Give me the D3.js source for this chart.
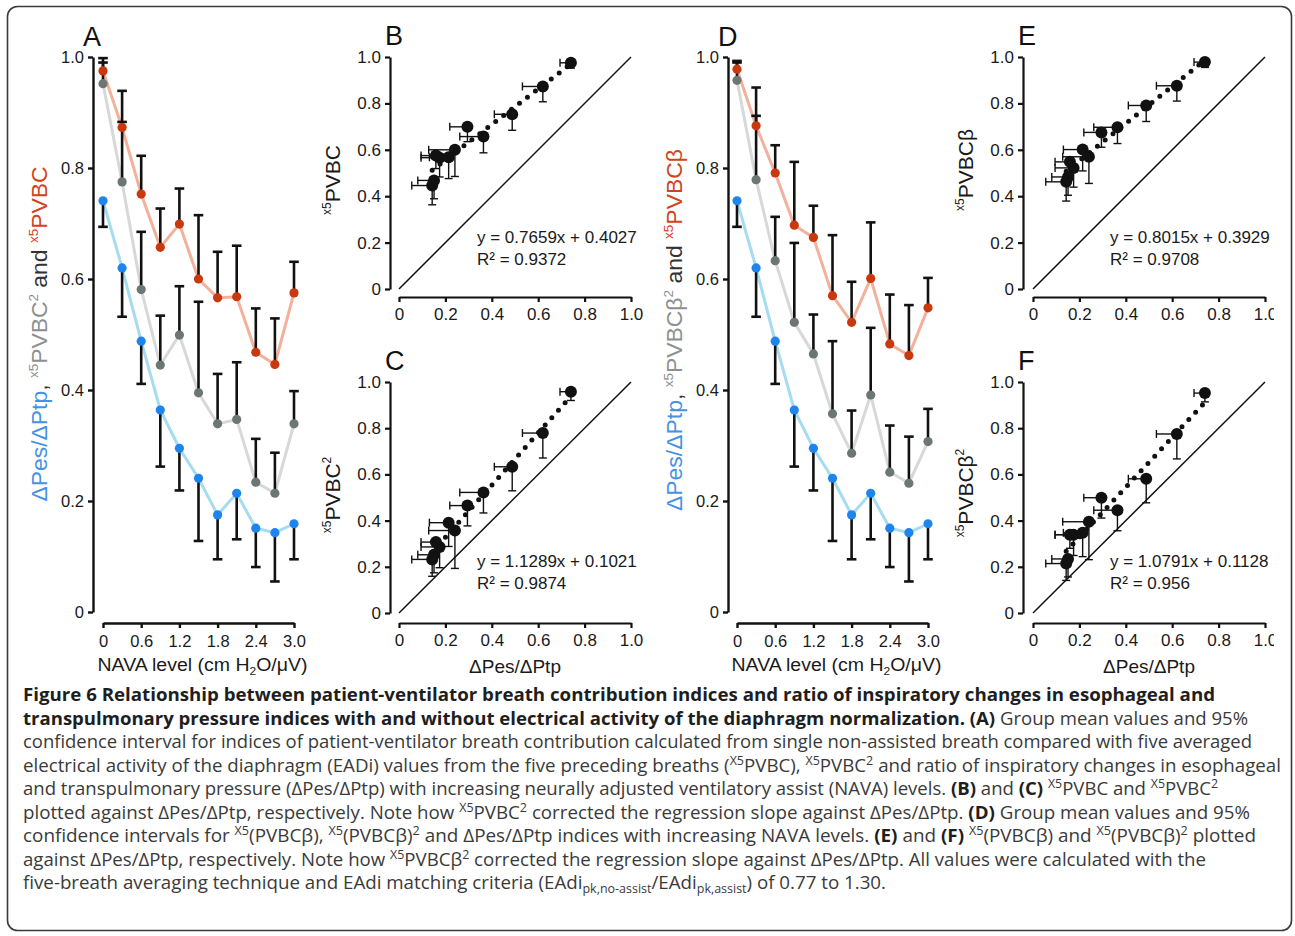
<!DOCTYPE html>
<html>
<head>
<meta charset="utf-8">
<script src="https://cdn.jsdelivr.net/npm/d3@7"></script>
<style>
  body { margin: 0; background: #fff; }
  svg { display: block; }
</style>
</head>
<body>
<svg id="fig" width="1295" height="936"></svg>
<script>
// ---- data ----
// NAVA levels (cm H2O/uV)
const navaLevels = [0, 0.3, 0.6, 0.9, 1.2, 1.5, 1.8, 2.1, 2.4, 2.7, 3.0];
const navaTicks = [0, 0.6, 1.2, 1.8, 2.4, 3.0];
const unitTicks = [0, 0.2, 0.4, 0.6, 0.8, 1.0];

// dPes/dPtp (blue), same series in A and D; CI half widths
const pesPtp   = [0.741, 0.620, 0.488, 0.364, 0.295, 0.241, 0.175, 0.214, 0.151, 0.143, 0.159];
const pesPtpCI = [0.047, 0.088, 0.077, 0.102, 0.076, 0.113, 0.080, 0.083, 0.070, 0.088, 0.064];

// panel A: x5PVBC (red) and x5PVBC^2 (grey)
const pvbcA    = [0.975, 0.873, 0.753, 0.657, 0.699, 0.600, 0.566, 0.568, 0.468, 0.446, 0.575];
const pvbcACI  = [0.023, 0.066, 0.069, 0.070, 0.064, 0.115, 0.083, 0.092, 0.079, 0.083, 0.056];
const pvbc2A   = [0.952, 0.775, 0.581, 0.445, 0.499, 0.395, 0.339, 0.347, 0.234, 0.214, 0.339];
const pvbc2ACI = [0.038, 0.108, 0.104, 0.089, 0.088, 0.164, 0.090, 0.103, 0.078, 0.073, 0.059];

// panel D: x5PVBCbeta (red) and x5PVBCbeta^2 (grey)
const pvbcBetaD    = [0.978, 0.876, 0.791, 0.697, 0.675, 0.570, 0.522, 0.601, 0.483, 0.462, 0.548];
const pvbcBetaDCI  = [0.015, 0.069, 0.050, 0.114, 0.057, 0.109, 0.073, 0.101, 0.089, 0.091, 0.054];
const pvbcBeta2D   = [0.958, 0.779, 0.633, 0.522, 0.465, 0.357, 0.286, 0.391, 0.252, 0.232, 0.307];
const pvbcBeta2DCI = [0.032, 0.115, 0.079, 0.143, 0.071, 0.131, 0.077, 0.121, 0.084, 0.084, 0.059];

// regressions printed in B, C, E, F
const regSlope     = [0.7659, 1.1289, 0.8015, 1.0791];
const regIntercept = [0.4027, 0.1021, 0.3929, 0.1128];
const regR2        = ["0.9372", "0.9874", "0.9708", "0.956"];

const RED = "#c9380f", RED_LINE = "#f3b19c";
const GREY = "#6c7673", GREY_LINE = "#d6d9d7";
const BLUE = "#1f85ee", BLUE_LINE = "#a6dcf0";
const T_BLUE = "#4592e4", T_GREY = "#8c9190", T_RED = "#d2431b", T_DARK = "#333";
const FONT = "'Liberation Sans', Arial, sans-serif";

const svg = d3.select("#fig");
svg.append("defs").append("clipPath").attr("id", "chartClip")
  .append("rect").attr("x", 0).attr("y", 0).attr("width", 1274).attr("height", 680);

const chart = svg.append("g").attr("clip-path", "url(#chartClip)")
  .style("font-family", FONT);

const fmtTick = d => d === 0 ? "0" : d.toFixed(1);

function styleAxis(sel, w, fs) {
  sel.select(".domain").attr("stroke", "#111").attr("stroke-width", w);
  sel.selectAll(".tick line").attr("stroke", "#111").attr("stroke-width", w);
  sel.selectAll(".tick text").attr("fill", "#1a1a1a").style("font-size", fs + "px")
    .style("font-family", FONT);
}

// rotated multi colour title
function yTitle(g, x, cy, parts, fs, len) {
  const t = g.append("text")
    .attr("transform", `translate(${x},${cy}) rotate(-90)`)
    .attr("text-anchor", "middle")
    .style("font-size", fs + "px");
  if (len) t.attr("textLength", len).attr("lengthAdjust", "spacingAndGlyphs");
  let shift = 0;
  parts.forEach(([str, col, sup]) => {
    const target = sup ? -Math.round(fs * 0.42) : 0;
    t.append("tspan").attr("dy", target - shift).attr("fill", col)
      .style("font-size", (sup ? Math.round(fs * 0.58) : fs) + "px").text(str);
    shift = target;
  });
  return t;
}

function letter(g, txt, x, y) {
  g.append("text").attr("x", x).attr("y", y).style("font-size", "27px")
    .attr("fill", "#111").text(txt);
}

function linePanel(p) {
  const g = chart.append("g");
  const x = d3.scaleLinear().domain([0, 3]).range([p.x0, p.x1]);
  const y = d3.scaleLinear().domain([0, 1]).range([p.y0, p.y1]);

  g.append("g").attr("transform", `translate(${p.axisX},0)`)
    .call(d3.axisLeft(y).tickValues(unitTicks).tickFormat(fmtTick).tickSize(5).tickSizeOuter(0).tickPadding(4))
    .call(s => styleAxis(s, 2.4, 16.5));
  g.append("g").attr("transform", `translate(0,${p.xAxisY})`)
    .call(d3.axisBottom(x).tickValues(navaTicks).tickFormat(fmtTick).tickSize(5).tickSizeOuter(0).tickPadding(7))
    .call(s => styleAxis(s, 2.4, 16.5));

  const line = d3.line().x((d, i) => x(navaLevels[i])).y(d => y(d));
  p.series.forEach(s => {
    g.append("path").datum(s.values).attr("fill", "none")
      .attr("stroke", s.lineColor).attr("stroke-width", 3).attr("d", line);
  });
  // error bars: one-sided, as drawn
  p.series.forEach(s => {
    s.values.forEach((v, i) => {
      const cx = x(navaLevels[i]);
      const end = y(v + s.dir * s.ci[i]);
      g.append("line").attr("x1", cx).attr("x2", cx).attr("y1", y(v)).attr("y2", end)
        .attr("stroke", "#111").attr("stroke-width", 2.6);
      g.append("line").attr("x1", cx - 4.8).attr("x2", cx + 4.8).attr("y1", end).attr("y2", end)
        .attr("stroke", "#111").attr("stroke-width", 2.6);
    });
  });
  p.series.forEach(s => {
    g.selectAll(null).data(s.values).join("circle")
      .attr("cx", (d, i) => x(navaLevels[i])).attr("cy", d => y(d)).attr("r", 4.6)
      .attr("fill", s.color);
  });

  g.append("text").attr("x", (p.x0 + p.x1) / 2 + 4).attr("y", p.xAxisY + 48)
    .attr("text-anchor", "middle").style("font-size", "18px").attr("fill", "#1a1a1a")
    .attr("textLength", 210).attr("lengthAdjust", "spacingAndGlyphs")
    .call(t => {
      t.append("tspan").text("NAVA level (cm H");
      t.append("tspan").attr("dy", 4).style("font-size", "11px").text("2");
      t.append("tspan").attr("dy", -4).text("O/\u03bcV)");
    });
  yTitle(g, p.axisX - 46, p.titleY, p.title, 22, p.titleLen);
  letter(g, p.letter, p.axisX - 10, 46);
}

function scatterPanel(p) {
  const g = chart.append("g");
  const x = d3.scaleLinear().domain([0, 1]).range([p.x0, p.x1]);
  const y = d3.scaleLinear().domain([0, 1]).range([p.y0, p.y1]);

  g.append("g").attr("transform", `translate(${p.axisX},0)`)
    .call(d3.axisLeft(y).tickValues(unitTicks).tickFormat(fmtTick).tickSize(5).tickSizeOuter(0).tickPadding(4))
    .call(s => styleAxis(s, 2.2, 17));
  g.append("g").attr("transform", `translate(0,${p.xAxisY})`)
    .call(d3.axisBottom(x).tickValues(unitTicks).tickFormat(fmtTick).tickSize(5).tickSizeOuter(0).tickPadding(6))
    .call(s => styleAxis(s, 2.2, 17));

  // line of identity
  g.append("line").attr("x1", x(0)).attr("y1", y(0)).attr("x2", x(1)).attr("y2", y(1))
    .attr("stroke", "#111").attr("stroke-width", 1.5);

  // error bars: x to the left, y downwards
  pesPtp.forEach((xv, i) => {
    const yv = p.ys[i];
    const xl = x(xv - pesPtpCI[i]), yb = y(yv - p.yci[i]);
    g.append("line").attr("x1", x(xv)).attr("x2", xl).attr("y1", y(yv)).attr("y2", y(yv))
      .attr("stroke", "#111").attr("stroke-width", 1.4);
    g.append("line").attr("x1", xl).attr("x2", xl).attr("y1", y(yv) - 4).attr("y2", y(yv) + 4)
      .attr("stroke", "#111").attr("stroke-width", 1.4);
    g.append("line").attr("x1", x(xv)).attr("x2", x(xv)).attr("y1", y(yv)).attr("y2", yb)
      .attr("stroke", "#111").attr("stroke-width", 1.4);
    g.append("line").attr("x1", x(xv) - 4).attr("x2", x(xv) + 4).attr("y1", yb).attr("y2", yb)
      .attr("stroke", "#111").attr("stroke-width", 1.4);
  });

  // dotted regression line over the data range
  const [xmin, xmax] = d3.extent(pesPtp);
  const k = p.reg;
  g.append("line")
    .attr("x1", x(xmin)).attr("y1", y(regSlope[k] * xmin + regIntercept[k]))
    .attr("x2", x(xmax)).attr("y2", y(regSlope[k] * xmax + regIntercept[k]))
    .attr("stroke", "#111").attr("stroke-width", 5).attr("stroke-linecap", "round")
    .attr("stroke-dasharray", "0 10");

  g.selectAll(null).data(p.ys).join("circle")
    .attr("cx", (d, i) => x(pesPtp[i])).attr("cy", d => y(d)).attr("r", 6)
    .attr("fill", "#111");

  g.append("text").attr("x", p.axisX + 87).attr("y", p.y0 - 46).style("font-size", "17px")
    .attr("fill", "#1a1a1a").text(`y = ${regSlope[k]}x + ${regIntercept[k]}`);
  g.append("text").attr("x", p.axisX + 87).attr("y", p.y0 - 24).style("font-size", "17px")
    .attr("fill", "#1a1a1a").text(`R\u00b2 = ${regR2[k]}`);

  yTitle(g, p.axisX - 50, p.titleY, p.title, 21);
  if (p.xTitle) {
    g.append("text").attr("x", (p.x0 + p.x1) / 2).attr("y", p.xAxisY + 50)
      .attr("text-anchor", "middle").style("font-size", "19px").attr("fill", "#1a1a1a")
      .text("\u0394Pes/\u0394Ptp");
  }
  letter(g, p.letter, p.axisX - 5, p.y1 - 12);
}

linePanel({
  letter: "A", axisX: 93, x0: 103, x1: 294, y0: 612, y1: 57, xAxisY: 623,
  titleY: 334, titleLen: 335,
  title: [["\u0394Pes/\u0394Ptp", T_BLUE], [", ", T_DARK], ["x5", T_GREY, true], ["PVBC", T_GREY],
          ["2", T_GREY, true], [" and ", T_DARK], ["x5", T_RED, true], ["PVBC", T_RED]],
  series: [
    { values: pesPtp, ci: pesPtpCI, dir: -1, color: BLUE, lineColor: BLUE_LINE },
    { values: pvbc2A, ci: pvbc2ACI, dir: 1, color: GREY, lineColor: GREY_LINE },
    { values: pvbcA, ci: pvbcACI, dir: 1, color: RED, lineColor: RED_LINE }
  ]
});

linePanel({
  letter: "D", axisX: 728, x0: 737, x1: 928, y0: 612, y1: 57, xAxisY: 623,
  titleY: 330, titleLen: 362,
  title: [["\u0394Pes/\u0394Ptp", T_BLUE], [", ", T_DARK], ["x5", T_GREY, true], ["PVBC\u03b2", T_GREY],
          ["2", T_GREY, true], [" and ", T_DARK], ["x5", T_RED, true], ["PVBC\u03b2", T_RED]],
  series: [
    { values: pesPtp, ci: pesPtpCI, dir: -1, color: BLUE, lineColor: BLUE_LINE },
    { values: pvbcBeta2D, ci: pvbcBeta2DCI, dir: 1, color: GREY, lineColor: GREY_LINE },
    { values: pvbcBetaD, ci: pvbcBetaDCI, dir: 1, color: RED, lineColor: RED_LINE }
  ]
});

scatterPanel({ letter: "B", reg: 0, axisX: 390, x0: 399, x1: 631, y0: 289, y1: 57, xAxisY: 297,
  ys: pvbcA, yci: pvbcACI, titleY: 180,
  title: [["x5", "#1a1a1a", true], ["PVBC", "#1a1a1a"]] });
scatterPanel({ letter: "C", reg: 1, axisX: 390, x0: 399, x1: 631, y0: 613, y1: 382, xAxisY: 623,
  ys: pvbcBeta2D, yci: pvbc2ACI, titleY: 495, xTitle: true,
  title: [["x5", "#1a1a1a", true], ["PVBC", "#1a1a1a"], ["2", "#1a1a1a", true]] });
scatterPanel({ letter: "E", reg: 2, axisX: 1023, x0: 1033, x1: 1265, y0: 289, y1: 57, xAxisY: 297,
  ys: pvbcBetaD, yci: pvbcACI, titleY: 170,
  title: [["x5", "#1a1a1a", true], ["PVBC\u03b2", "#1a1a1a"]] });
scatterPanel({ letter: "F", reg: 3, axisX: 1023, x0: 1033, x1: 1265, y0: 613, y1: 382, xAxisY: 623,
  ys: pvbc2A, yci: pvbc2ACI, titleY: 493, xTitle: true,
  title: [["x5", "#1a1a1a", true], ["PVBC\u03b2", "#1a1a1a"], ["2", "#1a1a1a", true]] });

// ---- caption ----
const captionLines = [
  [["b", "Figure 6 Relationship between patient-ventilator breath contribution indices and ratio of inspiratory changes in esophageal and"]],
  [["b", "transpulmonary pressure indices with and without electrical activity of the diaphragm normalization. (A)"], ["n", " Group mean values and 95%"]],
  [["n", "confidence interval for indices of patient-ventilator breath contribution calculated from single non-assisted breath compared with five averaged"]],
  [["n", "electrical activity of the diaphragm (EADi) values from the five preceding breaths ("], ["sup", "X5"], ["n", "PVBC), "], ["sup", "X5"], ["n", "PVBC"], ["sup", "2"], ["n", " and ratio of inspiratory changes in esophageal"]],
  [["n", "and transpulmonary pressure (\u0394Pes/\u0394Ptp) with increasing neurally adjusted ventilatory assist (NAVA) levels. "], ["b", "(B)"], ["n", " and "], ["b", "(C)"], ["n", " "], ["sup", "X5"], ["n", "PVBC and "], ["sup", "X5"], ["n", "PVBC"], ["sup", "2"]],
  [["n", "plotted against \u0394Pes/\u0394Ptp, respectively. Note how "], ["sup", "X5"], ["n", "PVBC"], ["sup", "2"], ["n", " corrected the regression slope against \u0394Pes/\u0394Ptp. "], ["b", "(D)"], ["n", " Group mean values and 95%"]],
  [["n", "confidence intervals for "], ["sup", "X5"], ["n", "(PVBC\u03b2), "], ["sup", "X5"], ["n", "(PVBC\u03b2)"], ["sup", "2"], ["n", " and \u0394Pes/\u0394Ptp indices with increasing NAVA levels. "], ["b", "(E)"], ["n", " and "], ["b", "(F)"], ["n", " "], ["sup", "X5"], ["n", "(PVBC\u03b2) and "], ["sup", "X5"], ["n", "(PVBC\u03b2)"], ["sup", "2"], ["n", " plotted"]],
  [["n", "against \u0394Pes/\u0394Ptp, respectively. Note how "], ["sup", "X5"], ["n", "PVBC\u03b2"], ["sup", "2"], ["n", " corrected the regression slope against \u0394Pes/\u0394Ptp. All values were calculated with the"]],
  [["n", "five-breath averaging technique and EAdi matching criteria (EAdi"], ["sub", "pk,no-assist"], ["n", "/EAdi"], ["sub", "pk,assist"], ["n", ") of 0.77 to 1.30."]]
];
const captionEnds = [1215, 1248, 1252, 1281, 1218, 1250, 1256, 1206, 886];
const capX = 23, capY0 = 701, capDY = 23.5;

const cap = svg.append("g").style("font-family", "'Open Sans', 'Noto Sans', sans-serif");
captionLines.forEach((segs, i) => {
  const t = cap.append("text").attr("x", capX).attr("y", capY0 + i * capDY)
    .attr("textLength", captionEnds[i] - capX).attr("lengthAdjust", "spacingAndGlyphs")
    .style("font-size", "18px").attr("fill", "#3a3a3a");
  let shift = 0;
  segs.forEach(([kind, str]) => {
    const target = kind === "sup" ? -7 : kind === "sub" ? 4 : 0;
    const small = kind === "sup" || kind === "sub";
    t.append("tspan").attr("dy", target - shift)
      .attr("font-weight", kind === "b" ? 700 : 400)
      .attr("fill", kind === "b" ? "#1e1e1e" : "#3a3a3a")
      .style("font-size", small ? "12px" : "18px")
      .text(str);
    shift = target;
  });
});

// frame round the whole figure
svg.append("rect").attr("x", 7.5).attr("y", 6.5).attr("width", 1284).attr("height", 924)
  .attr("rx", 10).attr("fill", "none").attr("stroke", "#3a3a3a").attr("stroke-width", 1.6);
</script>
</body>
</html>
